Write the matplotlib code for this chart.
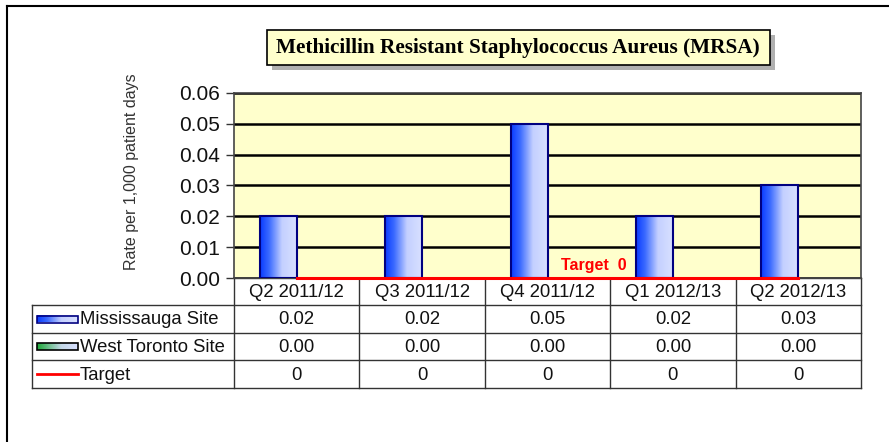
import numpy as np
import matplotlib
matplotlib.use("Agg")
from matplotlib import pyplot as plt
from matplotlib.colors import LinearSegmentedColormap
from matplotlib.patches import Rectangle
from matplotlib.lines import Line2D

# data
categories = ['Q2 2011/12', 'Q3 2011/12', 'Q4 2011/12', 'Q1 2012/13', 'Q2 2012/13']
mississauga = [0.02, 0.02, 0.05, 0.02, 0.03]
west_toronto = [0.00, 0.00, 0.00, 0.00, 0.00]
target = [0, 0, 0, 0, 0]
series_names = ['Mississauga Site', 'West Toronto Site', 'Target']
yticks = [0.00, 0.01, 0.02, 0.03, 0.04, 0.05, 0.06]

W, H = 889, 442
plt.rcParams['font.family'] = ['Liberation Sans', 'DejaVu Sans']

blue_cm = LinearSegmentedColormap.from_list('b', [(0, '#0a3cff'), (0.25, '#3d6cff'),
                                                  (0.6, '#c4d0ff'), (1, '#d8e0ff')])
green_cm = LinearSegmentedColormap.from_list('g', [(0, '#1fa83a'), (0.6, '#c4d8e8'), (1, '#d8e0ff')])
grad = np.linspace(0, 1, 64).reshape(1, -1)

fig = plt.figure(figsize=(W / 100, H / 100), dpi=100)

# overlay axes in pixel coordinates for frame, title box and table
ov = fig.add_axes([0, 0, 1, 1])
ov.set_xlim(0, W)
ov.set_ylim(H, 0)
ov.axis('off')

# figure frame (left and top only)
ov.add_line(Line2D([7, 7], [H, 6], color='black', lw=1.5))
ov.add_line(Line2D([7, W], [6, 6], color='black', lw=1.5))

# title box with shadow
ov.add_patch(Rectangle((272, 35), 503, 35, facecolor='#b0b0b0', edgecolor='none'))
ov.add_patch(Rectangle((267, 30), 503, 35, facecolor='#ffffcc', edgecolor='black', lw=1.2))
ov.text(518, 48, 'Methicillin Resistant Staphylococcus Aureus (MRSA)',
        family=['Liberation Serif', 'DejaVu Serif'], weight='bold', fontsize=15.3,
        ha='center', va='center')

# main plot
L, R, T, B = 234, 861, 93, 278
ax = fig.add_axes([L / W, 1 - B / H, (R - L) / W, (B - T) / H])
ax.set_facecolor('#ffffcc')
x = np.arange(len(categories))
bw = 0.295
bars1 = ax.bar(x - bw / 2, mississauga, bw, facecolor='none', edgecolor='#000080', lw=1.5, zorder=4)
bars2 = ax.bar(x + bw / 2, west_toronto, bw, facecolor='none', edgecolor='#000000', lw=0, zorder=4)
for b in bars1:
    bx, by = b.get_x(), b.get_y()
    im = ax.imshow(grad, cmap=blue_cm, extent=[bx, bx + b.get_width(), by, by + b.get_height()],
                   aspect='auto', zorder=3)
    im.set_clip_path(b)
ax.plot(x, target, color='red', lw=2.2, zorder=5, clip_on=False)
ax.text(2.37, 0.0042, 'Target  0', color='red', weight='bold', fontsize=11.5,
        ha='center', va='center', zorder=6)

ax.set_xlim(-0.5, len(categories) - 0.5)
ax.set_ylim(0, 0.06)
ax.set_yticks(yticks)
ax.set_yticklabels(['%.2f' % v for v in yticks], fontsize=15, color='#111111')
ax.yaxis.grid(True, color='black', lw=1.8)
ax.set_axisbelow(True)
ax.tick_params(axis='y', length=6, width=1, color='#333333', pad=4)
ax.set_xticks([])
for s in ax.spines.values():
    s.set_color('#444444')
    s.set_linewidth(1.2)
ax.set_ylabel('Rate per 1,000 patient days', fontsize=11.5, color='#333333')
ax.yaxis.set_label_coords(-0.152, 0.573)

# data table under the plot
col_w = (R - L) / len(categories)
rows_y = [278, 305, 333, 360, 388]
tbl_left = 32
lc = '#333333'
# horizontal lines
for yy in rows_y[1:]:
    ov.add_line(Line2D([tbl_left, R], [yy, yy], color=lc, lw=1))
ov.add_line(Line2D([L, R], [B, B], color=lc, lw=1))
# vertical lines
ov.add_line(Line2D([tbl_left, tbl_left], [rows_y[1], rows_y[-1]], color=lc, lw=1))
for i in range(len(categories) + 1):
    xx = L + i * col_w
    ov.add_line(Line2D([xx, xx], [rows_y[0], rows_y[-1]], color=lc, lw=1))

tfs = 13.3
for i, c in enumerate(categories):
    cx = L + (i + 0.5) * col_w
    ov.text(cx, (rows_y[0] + rows_y[1]) / 2 + 1, c, fontsize=tfs, ha='center', va='center', color='#111111')
    ov.text(cx, (rows_y[1] + rows_y[2]) / 2 + 1, '%.2f' % mississauga[i], fontsize=tfs,
            ha='center', va='center', color='#111111')
    ov.text(cx, (rows_y[2] + rows_y[3]) / 2 + 1, '%.2f' % west_toronto[i], fontsize=tfs,
            ha='center', va='center', color='#111111')
    ov.text(cx, (rows_y[3] + rows_y[4]) / 2 + 1, '%d' % target[i], fontsize=tfs,
            ha='center', va='center', color='#111111')

# legend keys in first column
kx0, kx1 = 37, 78
for r, cm in [(1, blue_cm), (2, green_cm)]:
    cy = (rows_y[r] + rows_y[r + 1]) / 2
    im = ov.imshow(grad, cmap=cm, extent=[kx0, kx1, cy + 3.5, cy - 3.5], aspect='auto', zorder=3)
    ov.add_patch(Rectangle((kx0, cy - 3.5), kx1 - kx0, 7, facecolor='none',
                           edgecolor='#000080' if r == 1 else 'black', lw=1.2, zorder=4))
cy = (rows_y[3] + rows_y[4]) / 2
ov.add_line(Line2D([kx0, kx1], [cy, cy], color='red', lw=2))
for r, name in enumerate(series_names):
    cy = (rows_y[r + 1] + rows_y[r + 2]) / 2 + 1
    ov.text(kx1 + 2, cy, name, fontsize=tfs, ha='left', va='center', color='#111111')

ov.set_xlim(0, W)
ov.set_ylim(H, 0)

fig.savefig('out.png', dpi=100)
